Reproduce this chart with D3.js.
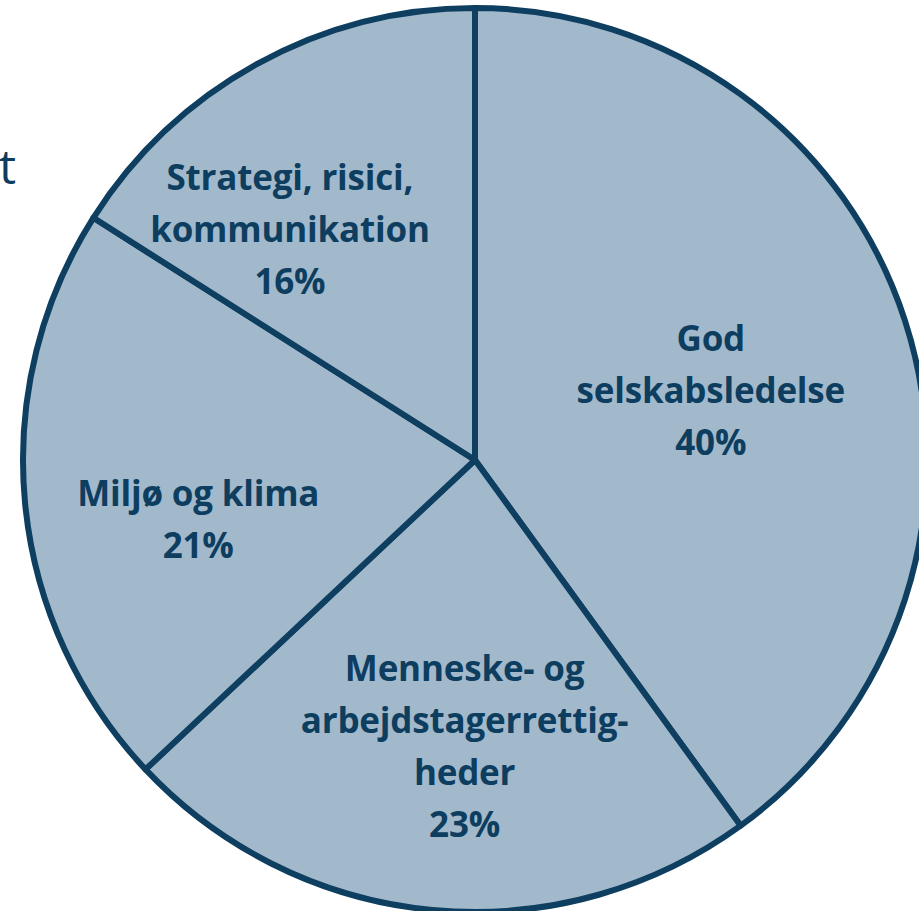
<!DOCTYPE html>
<html lang="da">
<head>
<meta charset="UTF-8">
<title>Pie</title>
<script src="https://d3js.org/d3.v7.min.js"></script>
<style>
  body { margin: 0; background: #ffffff; }
  svg { display: block; }
  .lbl { font-family: "Open Sans", sans-serif; font-weight: bold; font-size: 35px; fill: #0d3d5f; letter-spacing: -0.2px; }
</style>
</head>
<body>
<svg id="chart" width="919" height="911"></svg>
<script>
// data
const categories = ["God selskabsledelse", "Menneske- og arbejdstagerrettigheder", "Miljø og klima", "Strategi, risici, kommunikation"];
const values = [40, 23, 21, 16];
const labelLines = [
  ["God", "selskabsledelse", "40%"],
  ["Menneske- og", "arbejdstagerrettig-", "heder", "23%"],
  ["Miljø og klima", "21%"],
  ["Strategi, risici,", "kommunikation", "16%"]
];

const svg = d3.select("#chart");
const cx = 475, cy = 460, R = 452;

// stray clipped text on the left edge
svg.append("text")
  .attr("x", 16).attr("y", 184)
  .attr("text-anchor", "end")
  .style("font-family", "'Open Sans', sans-serif")
  .style("font-size", "48px")
  .style("fill", "#0d3d5f")
  .text("t");

const pie = d3.pie().sort(null).value(d => d.value);
const arcs = pie(categories.map((c, i) => ({name: c, value: values[i], lines: labelLines[i]})));

const arc = d3.arc().innerRadius(0).outerRadius(R);
const labelArc = d3.arc().innerRadius(270).outerRadius(270);

const g = svg.append("g").attr("transform", `translate(${cx},${cy})`);

g.selectAll("path")
  .data(arcs)
  .enter()
  .append("path")
  .attr("d", arc)
  .attr("fill", "#a2b9cb")
  .attr("stroke", "#0e3e60")
  .attr("stroke-width", 6)
  .attr("stroke-linejoin", "round");

// small nudges so labels sit where the original puts them
const nudge = [[-21, 13], [15, 17], [-8, 34], [-55, 6]];
const lineH = 52;

g.selectAll("text.lbl")
  .data(arcs)
  .enter()
  .append("text")
  .attr("class", "lbl")
  .attr("text-anchor", "middle")
  .attr("transform", (d, i) => {
    const [x, y] = labelArc.centroid(d);
    return `translate(${x + nudge[i][0]},${y + nudge[i][1]})`;
  })
  .each(function (d) {
    const n = d.data.lines.length;
    d3.select(this).selectAll("tspan")
      .data(d.data.lines)
      .enter()
      .append("tspan")
      .attr("x", 0)
      .attr("y", (t, j) => (j - (n - 1) / 2) * lineH + 13)
      .text(t => t);
  });
</script>
</body>
</html>
